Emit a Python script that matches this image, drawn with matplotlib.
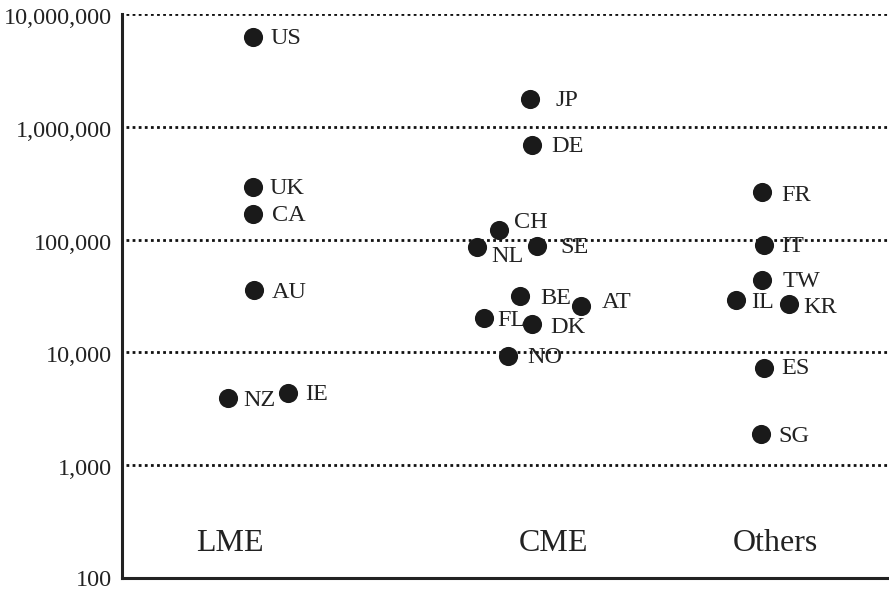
import matplotlib
matplotlib.use("Agg")
import matplotlib.pyplot as plt
import matplotlib.transforms as mtransforms
from matplotlib.ticker import FixedLocator, FuncFormatter

plt.rcParams['font.family'] = ['Liberation Serif', 'DejaVu Serif']

# countries, horizontal position (axis spans 0..10) and value
countries = ['US', 'UK', 'CA', 'AU', 'NZ', 'IE',
             'JP', 'DE', 'CH', 'NL', 'SE', 'BE', 'AT', 'FL', 'DK', 'NO',
             'FR', 'IT', 'TW', 'IL', 'KR', 'ES', 'SG']
xpos = [1.72, 1.72, 1.72, 1.73, 1.39, 2.18,
        5.35, 5.37, 4.94, 4.65, 5.44, 5.22, 6.02, 4.74, 5.37, 5.06,
        8.39, 8.41, 8.39, 8.05, 8.74, 8.41, 8.37]
values = [6250000, 292000, 169000, 35700, 3940, 4360,
          1760000, 690000, 122000, 86000, 88000, 31600, 25800, 20200, 17900, 9300,
          264000, 89500, 43800, 29200, 26800, 7300, 1890]

groups = ['LME', 'CME', 'Others']
group_x = [1.42, 5.65, 8.56]

yticks = [100, 1000, 10000, 100000, 1000000, 10000000]

# label offsets in pixels (dx, dy)
offsets = {'US': (17, 2), 'UK': (16, 2), 'CA': (19, 1), 'AU': (18, 1),
           'NZ': (15, 1), 'IE': (17, 2), 'JP': (25, 2), 'DE': (19, 1),
           'CH': (15, 10), 'NL': (14, -7), 'SE': (23, 1), 'BE': (20, 1),
           'AT': (20, 6), 'FL': (14, 0), 'DK': (18, -1), 'NO': (19, 1),
           'FR': (19, 0), 'IT': (17, 2), 'TW': (20, 2), 'IL': (15, 0),
           'KR': (14, 0), 'ES': (17, 2), 'SG': (18, 1)}

fig = plt.figure(figsize=(8.89, 5.90), dpi=100)
ax = fig.add_axes([0.1372, 0.0203, 0.8628, 0.956])

ax.set_yscale('log')
ax.set_ylim(100, 10000000)
ax.set_xlim(0, 10.05)

for y in yticks[1:]:
    ax.axhline(y, xmin=0.005, color='#111111', linestyle=(0, (1, 1.2)),
               linewidth=2.0, zorder=1)

ax.scatter(xpos, values, s=190, color='#1a1a1a', zorder=3, linewidths=0)

for c, x, v in zip(countries, xpos, values):
    dx, dy = offsets[c]
    ax.annotate(c, (x, v), xytext=(dx, dy - 3), textcoords='offset pixels',
                ha='left', va='center', fontsize=17.5, color='#222222', zorder=4)

for g, x in zip(groups, group_x):
    ax.text(x, 204, g, ha='center', va='center', fontsize=23, color='#222222')

ax.yaxis.set_major_locator(FixedLocator(yticks))
ax.yaxis.set_minor_locator(FixedLocator([]))
ax.yaxis.set_major_formatter(FuncFormatter(lambda v, p: f'{int(round(v)):,}'))
ax.tick_params(axis='y', length=0, pad=7, labelsize=17.5, labelcolor='#222222')
ax.set_xticks([])

# labels sit a little below their gridlines in the original
shift = mtransforms.ScaledTranslation(0, -2 / 100, fig.dpi_scale_trans)
for lab in ax.get_yticklabels()[1:]:
    lab.set_transform(lab.get_transform() + shift)

for s in ['top', 'right']:
    ax.spines[s].set_visible(False)
for s in ['left', 'bottom']:
    ax.spines[s].set_linewidth(2.2)
    ax.spines[s].set_color('#222222')

fig.savefig('out.png', dpi=100)
